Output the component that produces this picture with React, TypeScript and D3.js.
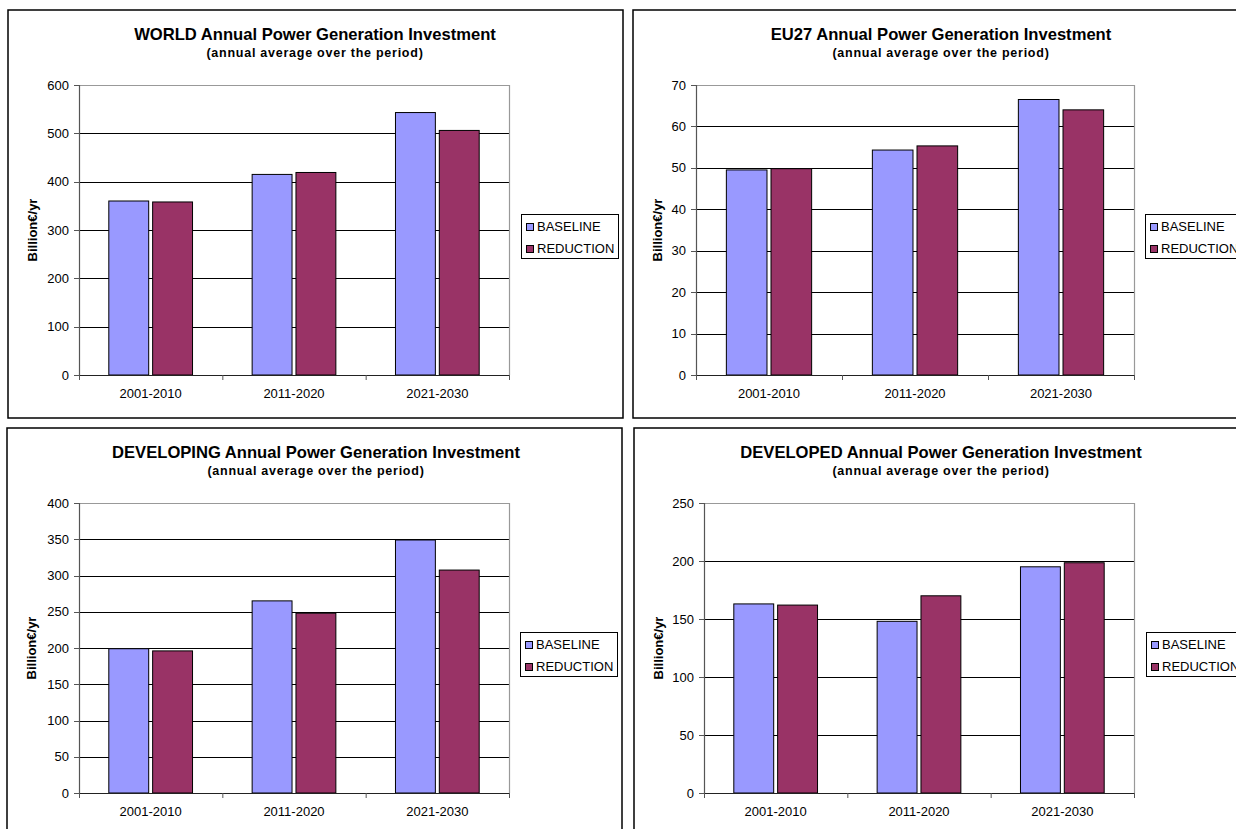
import React from "react";
import * as d3 from "d3";

// ---------- DATA ----------
const categories = ["2001-2010", "2011-2020", "2021-2030"];
const seriesNames = ["BASELINE", "REDUCTION"];

const worldBaseline = [360, 415, 543];
const worldReduction = [358, 419, 506];
const eu27Baseline = [49.5, 54.3, 66.5];
const eu27Reduction = [49.8, 55.3, 64.0];
const developingBaseline = [199, 265, 349];
const developingReduction = [196, 248, 307.5];
const developedBaseline = [163, 148, 195];
const developedReduction = [162, 170, 198.5];

const worldTicks = [0, 100, 200, 300, 400, 500, 600];
const eu27Ticks = [0, 10, 20, 30, 40, 50, 60, 70];
const developingTicks = [0, 50, 100, 150, 200, 250, 300, 350, 400];
const developedTicks = [0, 50, 100, 150, 200, 250];

const titles = [
  "WORLD Annual Power Generation Investment",
  "EU27 Annual Power Generation Investment",
  "DEVELOPING Annual Power Generation Investment",
  "DEVELOPED Annual Power Generation Investment",
];
const subtitle = "(annual average over the period)";
const yAxisTitle = "Billion€/yr";

// ---------- STYLE / LAYOUT ----------
const COLORS = ["#9999FF", "#993366"];
const FONT = "'Liberation Sans', Arial, Helvetica, sans-serif";

type Layout = {
  frame: [number, number, number, number];
  plot: [number, number, number, number]; // x0, x1, y0(top), y1(bottom)
  titleX: number;
  legend: [number, number];
};

const layouts: Layout[] = [
  { frame: [8, 10, 615, 408], plot: [79, 509, 85, 375], titleX: 315, legend: [521, 214] },
  { frame: [633, 10, 640, 408], plot: [696, 1134, 85, 375], titleX: 941, legend: [1145, 214] },
  { frame: [7, 428, 615, 420], plot: [79, 509, 503, 793], titleX: 316, legend: [520, 632] },
  { frame: [634, 428, 640, 420], plot: [704, 1134, 503, 793], titleX: 941, legend: [1146, 632] },
];

const panelData = [
  { base: worldBaseline, red: worldReduction, ticks: worldTicks },
  { base: eu27Baseline, red: eu27Reduction, ticks: eu27Ticks },
  { base: developingBaseline, red: developingReduction, ticks: developingTicks },
  { base: developedBaseline, red: developedReduction, ticks: developedTicks },
];

function Panel({ idx }: { idx: number }) {
  const L = layouts[idx];
  const D = panelData[idx];
  const [px0, px1, py0, py1] = L.plot;
  const yMax = D.ticks[D.ticks.length - 1];
  const y = d3.scaleLinear().domain([0, yMax]).range([py1, py0]);
  const x = d3.scaleBand<string>().domain(categories).range([px0, px1]).padding(0);
  const xi = d3
    .scaleBand<string>()
    .domain(seriesNames)
    .range([0, x.bandwidth()])
    .paddingInner(0.09)
    .paddingOuter(0.68);
  const series = [D.base, D.red];
  const boundaries = [px0, ...categories.map((c) => (x(c) as number) + x.bandwidth())];
  const [fx, fy, fw, fh] = L.frame;
  const [lx, ly] = L.legend;

  return (
    <g>
      <rect x={fx} y={fy} width={fw} height={fh} fill="#fff" stroke="#000" strokeWidth={1.5} />
      <text x={L.titleX} y={fy + 30} textAnchor="middle" fontFamily={FONT} fontWeight="bold" fontSize={16.6}>
        {titles[idx]}
      </text>
      <text
        x={L.titleX}
        y={fy + 47}
        textAnchor="middle"
        fontFamily={FONT}
        fontWeight="bold"
        fontSize={12.5}
        letterSpacing={0.75}
      >
        {subtitle}
      </text>
      {/* gridlines */}
      {D.ticks.slice(1, -1).map((t) => (
        <line key={"g" + t} x1={px0} x2={px1} y1={Math.round(y(t)) + 0.5} y2={Math.round(y(t)) + 0.5} stroke="#000" strokeWidth={1} />
      ))}
      {/* plot border top/right */}
      <line x1={px0} x2={px1} y1={py0 + 0.5} y2={py0 + 0.5} stroke="#999" strokeWidth={1.2} />
      <line x1={px1 + 0.5} x2={px1 + 0.5} y1={py0} y2={py1} stroke="#999" strokeWidth={1.2} />
      {/* bars */}
      {series.map((vals, si) =>
        categories.map((c, ci) => {
          const bx = (x(c) as number) + (xi(seriesNames[si]) as number);
          const top = y(vals[ci]);
          return (
            <rect
              key={si + "-" + ci}
              x={bx}
              y={top}
              width={xi.bandwidth()}
              height={py1 - top}
              fill={COLORS[si]}
              stroke="#000"
              strokeWidth={1}
            />
          );
        })
      )}
      {/* axes */}
      <line x1={px0 + 0.5} x2={px0 + 0.5} y1={py0} y2={py1} stroke="#555" strokeWidth={1.2} />
      <line x1={px0} x2={px1} y1={py1 + 0.5} y2={py1 + 0.5} stroke="#222" strokeWidth={1.2} />
      {D.ticks.map((t) => (
        <g key={"t" + t}>
          <line x1={px0 - 5} x2={px0} y1={Math.round(y(t)) + 0.5} y2={Math.round(y(t)) + 0.5} stroke="#555" />
          <text x={px0 - 10} y={y(t) + 4.5} textAnchor="end" fontFamily={FONT} fontSize={13}>
            {t}
          </text>
        </g>
      ))}
      {boundaries.map((bx, i) => (
        <line key={"xt" + i} x1={bx + 0.5} x2={bx + 0.5} y1={py1} y2={py1 + 5} stroke="#555" />
      ))}
      {categories.map((c) => (
        <text
          key={c}
          x={(x(c) as number) + x.bandwidth() / 2}
          y={py1 + 23}
          textAnchor="middle"
          fontFamily={FONT}
          fontSize={13}
        >
          {c}
        </text>
      ))}
      <text
        transform={`translate(${fx + 29},${(py0 + py1) / 2}) rotate(-90)`}
        textAnchor="middle"
        fontFamily={FONT}
        fontWeight="bold"
        fontSize={13}
      >
        {yAxisTitle}
      </text>
      {/* legend */}
      <rect x={lx + 0.5} y={ly + 0.5} width={97} height={44} fill="#fff" stroke="#000" strokeWidth={1} />
      {seriesNames.map((s, si) => (
        <g key={s}>
          <rect x={lx + 5.5} y={ly + 9.5 + si * 22} width={7} height={7} fill={COLORS[si]} stroke="#000" />
          <text x={lx + 16} y={ly + 17 + si * 22} fontFamily={FONT} fontSize={13}>
            {s}
          </text>
        </g>
      ))}
    </g>
  );
}

export default function App() {
  return (
    <svg
      width={1236}
      height={829}
      style={{ position: "absolute", left: 0, top: 0, background: "#fff" }}
    >
      <rect x={0} y={0} width={1236} height={829} fill="#fff" />
      {layouts.map((_, i) => (
        <Panel key={i} idx={i} />
      ))}
    </svg>
  );
}
